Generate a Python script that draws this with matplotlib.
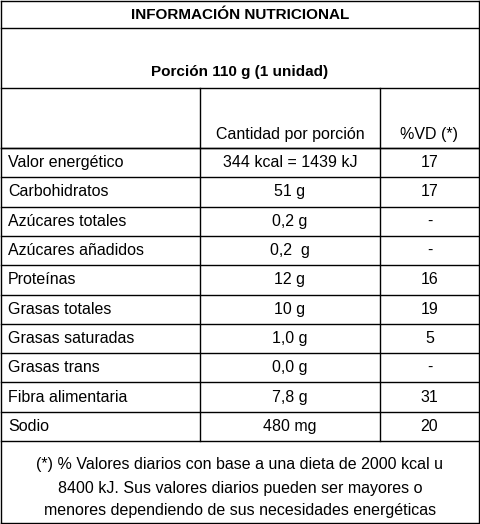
import matplotlib
matplotlib.use("Agg")
import matplotlib.pyplot as plt

title = "INFORMACIÓN NUTRICIONAL"
portion = "Porción 110 g (1 unidad)"
headers = ["Cantidad por porción", "%VD (*)"]
nutrients = ["Valor energético", "Carbohidratos", "Azúcares totales", "Azúcares añadidos",
             "Proteínas", "Grasas totales", "Grasas saturadas", "Grasas trans",
             "Fibra alimentaria", "Sodio"]
amounts = ["344 kcal = 1439 kJ", "51 g", "0,2 g", "0,2  g", "12 g", "10 g",
           "1,0 g", "0,0 g", "7,8 g", "480 mg"]
vd = ["17", "17", "-", "-", "16", "19", "5", "-", "31", "20"]
footnote = ["(*) % Valores diarios con base a una dieta de 2000 kcal u",
            "8400 kJ. Sus valores diarios pueden ser mayores o",
            "menores dependiendo de sus necesidades energéticas"]

plt.rcParams['font.family'] = ['Liberation Sans', 'DejaVu Sans']
fig = plt.figure(figsize=(4.8, 5.24), dpi=100)
ax = fig.add_axes([0, 0, 1, 1])
ax.set_xlim(0, 480); ax.set_ylim(524, 0); ax.axis('off')
lw = 1.0; c = 'black'; fs = 11.5
L, R = 1, 479
c1, c2 = 200, 380
top_rows = [1, 28, 88, 148]
rh = 29.3
rows = [148 + i * rh for i in range(len(nutrients) + 1)]
bottom = 523

for y in top_rows + rows:
    ax.plot([L, R], [y, y], color=c, lw=lw)
ax.plot([L, L], [1, bottom], color=c, lw=lw)
ax.plot([R, R], [1, bottom], color=c, lw=lw)
ax.plot([L, R], [bottom, bottom], color=c, lw=lw)
for x in (c1, c2):
    ax.plot([x, x], [88, rows[-1]], color=c, lw=lw)

ax.text(240, 15, title, ha='center', va='center', fontsize=fs - 0.5, fontweight='bold')
ax.text(240, 72, portion, ha='center', va='center', fontsize=fs - 0.5, fontweight='bold')
ax.text((c1 + c2) / 2, 134, headers[0], ha='center', va='center', fontsize=fs)
ax.text((c2 + R) / 2, 134, headers[1], ha='center', va='center', fontsize=fs)
for i, (n, a, v) in enumerate(zip(nutrients, amounts, vd)):
    yc = rows[i] + rh / 2
    ax.text(8, yc, n, ha='left', va='center', fontsize=fs)
    ax.text((c1 + c2) / 2, yc, a, ha='center', va='center', fontsize=fs)
    ax.text((c2 + R) / 2, yc, v, ha='center', va='center', fontsize=fs)
for j, line in enumerate(footnote):
    ax.text(240, 465 + j * 23, line, ha='center', va='center', fontsize=fs)

fig.savefig("out.png", dpi=100)
